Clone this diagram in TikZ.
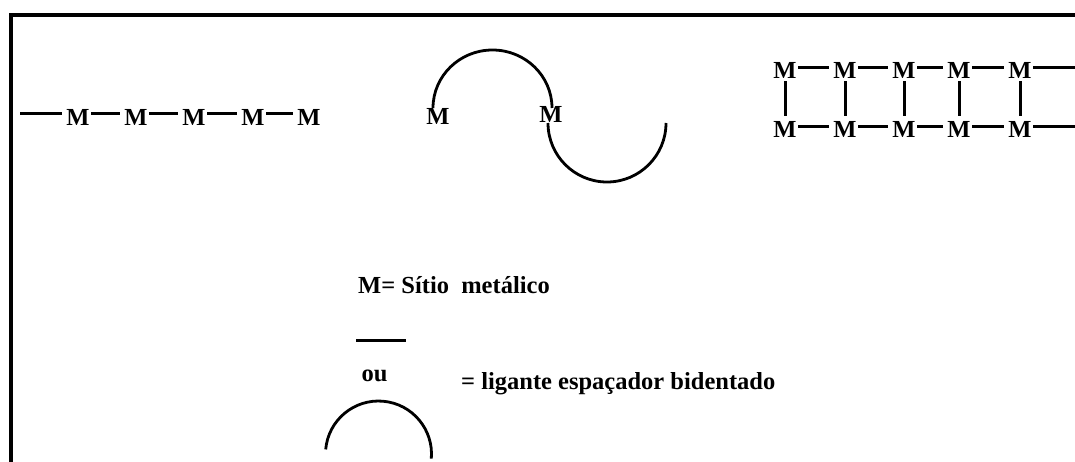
\documentclass[tikz,border=0pt]{standalone}
\usepackage{fontspec}
\setmainfont{Liberation Serif}
\begin{document}
\begin{tikzpicture}[x=1pt,y=-1pt,
  txt/.style={inner sep=0pt,anchor=base west,font=\fontsize{24.5}{28}\selectfont\bfseries},
  mnode/.style={inner xsep=1.5pt,inner ysep=0pt,text height=22pt,text depth=0pt,font=\fontsize{24.5}{28}\selectfont\bfseries},
  mlow/.style={mnode,text height=24pt},
  bond/.style={line width=3pt,shorten >=2.5pt},
  rung/.style={line width=3pt,shorten <=2pt},
  ligarc/.style={line width=2.8pt},
  frame/.style={line width=4pt}]
\useasboundingbox (0,0) rectangle (1075,462);
% frame
\coordinate (fb) at (11,462);
\coordinate (fc) at (11,15);
\coordinate (fr) at (1075,15);
\draw[frame,miter limit=10] (fb) -- (fc) -- (fr);
% linear chain
\coordinate (c0) at (20,114);
\foreach \n/\x in {1/78,2/136,3/194,4/253,5/309}
  \node[mlow] (c\n) at (\x,114) {M};
\draw[bond] (c0) -- (c1.west);
\foreach \a/\b in {1/2,2/3,3/4,4/5}
  \draw[bond] (c\a.east) -- (c\b.west);
% arcs
\node[mnode] (a1) at (438,114) {M};
\node[mnode] (a2) at (551,112) {M};
\coordinate (s1) at (433,108);
\coordinate (s2) at (548,123);
\draw[ligarc] (s1) arc[start angle=180,end angle=0,x radius=59.5pt,y radius=58pt];
\draw[ligarc] (s2) arc[start angle=180,end angle=360,x radius=59pt,y radius=59pt];
% ladder
\foreach \n/\x in {1/785,2/845,3/904,4/959,5/1020}{
  \node[mnode] (t\n) at (\x,68) {M};
  \node[mnode] (u\n) at (\x,127) {M};
  \draw[rung] (t\n.south) -- (u\n.north);
}
\foreach \a/\b in {1/2,2/3,3/4,4/5}{
  \draw[bond] (t\a.east) -- (t\b.west);
  \draw[bond] (u\a.east) -- (u\b.west);
}
\coordinate (te) at (1075,68);
\coordinate (ue) at (1075,127);
\draw[bond,shorten >=0pt] (t5.east) -- (te);
\draw[bond,shorten >=0pt] (u5.east) -- (ue);
% legend
\node[txt] (l1) at (358,293) {M= Sítio\ \ metálico};
\coordinate (la) at (356,340);
\coordinate (lb) at (406,340);
\draw[line width=3pt] (la) -- (lb);
\node[txt] (l2) at (361.5,381) {ou};
\node[txt] (l3) at (461,389) {= ligante espaçador bidentado};
\coordinate (ls) at (325.7,449.4);
\draw[ligarc] (ls) arc[start angle=175,end angle=-5,x radius=53pt,y radius=53pt];
\end{tikzpicture}
\end{document}
